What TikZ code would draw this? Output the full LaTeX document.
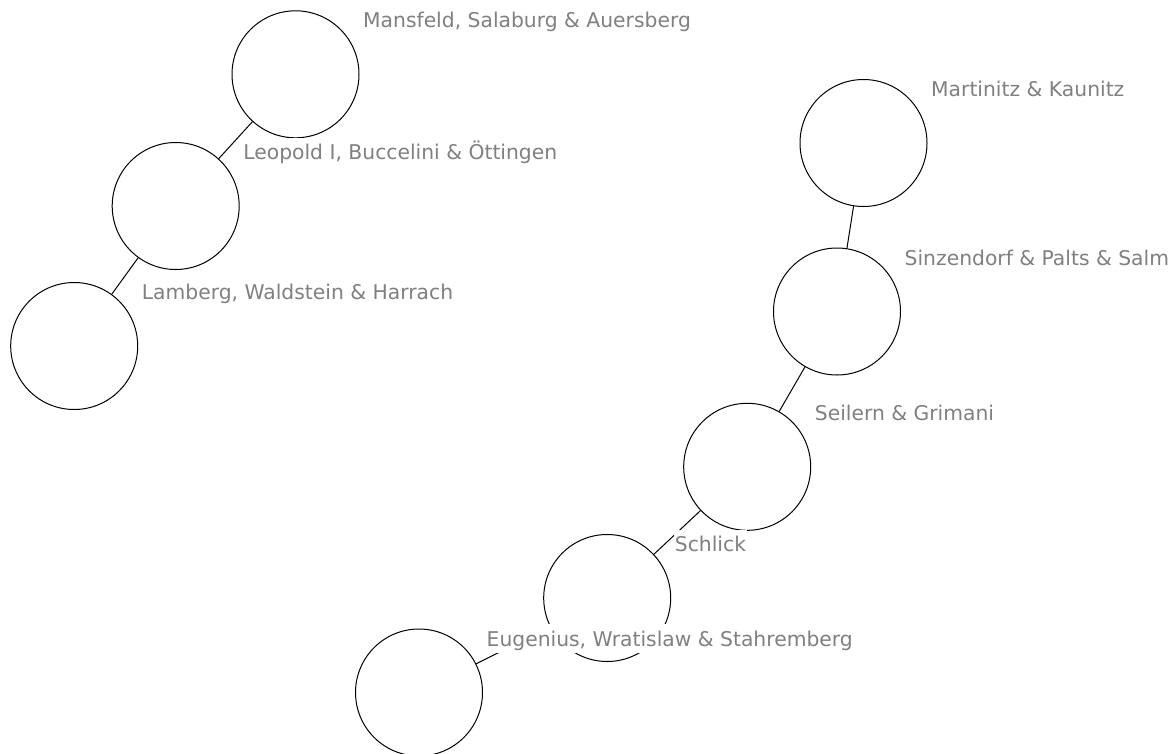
\documentclass[tikz,border=0pt]{standalone}
\usepackage{fontspec}
\setmainfont{DejaVu Sans}
\definecolor{labelgray}{RGB}{128,128,128}
\tikzset{
  person/.style={circle, draw=black, fill=white, line width=1pt, minimum size=127pt, inner sep=0pt},
  lbl/.style={anchor=base west, fill=white, text=labelgray, inner xsep=0.5pt, inner ysep=0pt,
              text height=22pt, text depth=7pt, font=\fontsize{20.3pt}{22pt}\selectfont},
  link/.style={draw=black, line width=1pt}
}
\begin{document}
\begin{tikzpicture}[x=1pt,y=-1pt]
\useasboundingbox (0,0) rectangle (1171,753);
% persons
\node[person] (A) at (295.5,74.3) {};
\node[person] (B) at (175.7,206) {};
\node[person] (C) at (74.2,346) {};
\node[person] (D) at (863.5,143) {};
\node[person] (E) at (837,311.5) {};
\node[person] (F) at (747.2,466.8) {};
\node[person] (G) at (607.2,598) {};
\node[person] (H) at (419,692.5) {};
% links
\draw[link] (A) -- (B);
\draw[link] (B) -- (C);
\draw[link] (D) -- (E);
\draw[link] (E) -- (F);
\draw[link] (F) -- (G);
\draw[link] (G) -- (H);
% labels
\node[lbl] (lA) at (362.5,27.8) {Mansfeld, Salaburg \& Auersberg};
\node[lbl] (lB) at (242.7,159.5) {Leopold I, Buccelini \& Öttingen};
\node[lbl] (lC) at (141.2,299.5) {Lamberg, Waldstein \& Harrach};
\node[lbl] (lD) at (930.5,96.5) {Martinitz \& Kaunitz};
\node[lbl] (lE) at (904,265) {Sinzendorf \& Palts \& Salm};
\node[lbl] (lF) at (814.2,420.3) {Seilern \& Grimani};
\node[lbl] (lG) at (674.2,551.5) {Schlick};
\node[lbl] (lH) at (486,646) {Eugenius, Wratislaw \& Stahremberg};
\end{tikzpicture}
\end{document}
